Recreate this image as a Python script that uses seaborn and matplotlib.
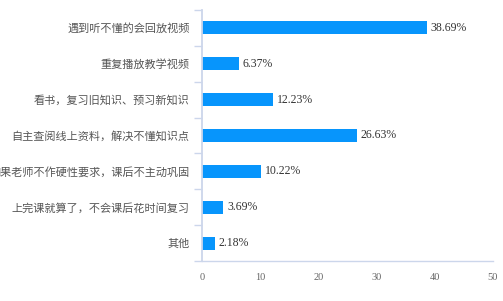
import matplotlib
matplotlib.use("Agg")
import matplotlib.pyplot as plt
import seaborn as sns
import pandas as pd
from matplotlib.ticker import FixedLocator

categories = [
    "遇到听不懂的会回放视频",
    "重复播放教学视频",
    "看书，复习旧知识、预习新知识",
    "自主查阅线上资料，解决不懂知识点",
    "如果老师不作硬性要求，课后不主动巩固",
    "上完课就算了，不会课后花时间复习",
    "其他",
]
values = [38.69, 6.37, 12.23, 26.63, 10.22, 3.69, 2.18]
value_labels = ["38.69%", "6.37%", "12.23%", "26.63%", "10.22%", "3.69%", "2.18%"]
xticks = [0, 10, 20, 30, 40, 50]

sns.set_theme(style="white")
plt.rcParams["font.family"] = ["Noto Sans CJK SC", "DejaVu Sans"]

df = pd.DataFrame({"cat": categories, "val": values})

fig = plt.figure(figsize=(5.03, 3.01), dpi=100)
ax = fig.add_axes([202/503, 1-261/301, 291/503, 251/301])
sns.barplot(data=df, y="cat", x="val", orient="h", color="#0795fc", width=0.36,
            saturation=1, ax=ax, edgecolor="none")

ax.set_xlim(0, 50)
ax.set_ylim(6.5, -0.5)
ax.set_xlabel("")
ax.set_ylabel("")
ax.set_xticks(xticks)
ax.set_xticklabels([str(t) for t in xticks], family="Liberation Serif", fontsize=7.5, color="#666666")
ax.tick_params(axis="x", length=0, pad=9)
ax.tick_params(axis="y", which="major", length=0, pad=9, labelsize=8, labelcolor="#555555")
ax.yaxis.set_minor_locator(FixedLocator([i - 0.5 for i in range(len(categories) + 1)]))
ax.tick_params(axis="y", which="minor", length=6, width=1, color="#ccd6eb", left=True)

for s in ["top", "right"]:
    ax.spines[s].set_visible(False)
ax.spines["left"].set_color("#ccd6eb")
ax.spines["bottom"].set_color("#ccd6eb")
ax.spines["left"].set_linewidth(1.3)
ax.spines["bottom"].set_linewidth(1)

for i, (v, lab) in enumerate(zip(values, value_labels)):
    ax.text(v + 0.6, i, lab, va="center", ha="left", family="Liberation Serif",
            fontsize=8.5, color="#333333")

fig.savefig("out.png", dpi=100)
